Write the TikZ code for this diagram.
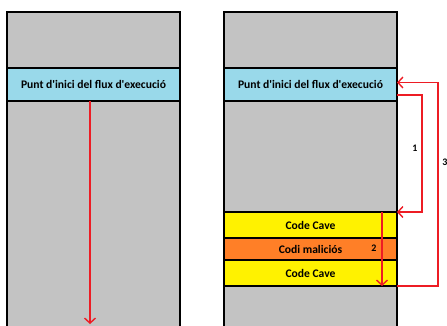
\documentclass[tikz,border=0pt]{standalone}
\usepackage{fontspec}
\setmainfont{Carlito}
\usetikzlibrary{arrows.meta,positioning,calc}
\definecolor{grisPaint}{HTML}{C3C3C3}
\definecolor{blauPaint}{HTML}{99D9EA}
\definecolor{grocPaint}{HTML}{FFF200}
\definecolor{taronjaPaint}{HTML}{FF7F27}
\definecolor{vermellPaint}{HTML}{ED1C24}
\newcommand{\apos}{\textquotesingle}
\tikzset{
  franja/.style={draw=black,line width=1.8pt,minimum width=173pt,inner sep=0pt,outer sep=0pt,
    anchor=north west,font=\bfseries\fontsize{11.6}{12}\selectfont},
  fletxa/.style={draw=vermellPaint,line width=1.6pt,-{Straight Barb[length=5pt,width=11pt,line width=1.4pt]}},
  etiqueta/.style={font=\bfseries\fontsize{10}{11}\selectfont}
}
\begin{document}
\begin{tikzpicture}[x=1pt,y=-1pt]
  \useasboundingbox (0,0) rectangle (447,325);
  \clip (0,0) rectangle (447,325);

  % columna esquerra
  \node[franja,fill=grisPaint,minimum height=56pt] (egris1) at (7,12) {};
  \node[franja,fill=blauPaint,minimum height=33pt] (eblau) at (7,68) {Punt d\apos inici del flux d\apos execució};
  \node[franja,fill=grisPaint,minimum height=240pt] (egris2) at (7,101) {};
  \coordinate (efi) at (90,324);
  \draw[fletxa] (eblau.south -| efi) -- (efi);

  % columna dreta
  \node[franja,fill=grisPaint,minimum height=56pt] (dgris1) at (224,12) {};
  \node[franja,fill=blauPaint,minimum height=33pt] (dblau) at (224,68) {Punt d\apos inici del flux d\apos execució};
  \node[franja,fill=grisPaint,minimum height=111pt] (dgris2) at (224,101) {};
  \node[franja,fill=grocPaint,minimum height=26pt] (cave1) at (224,212) {Code Cave};
  \node[franja,fill=taronjaPaint,minimum height=22pt] (malicios) at (224,238) {Codi maliciós};
  \node[franja,fill=grocPaint,minimum height=26pt] (cave2) at (224,260) {Code Cave};
  \node[franja,fill=grisPaint,minimum height=60pt] (dgris3) at (224,286) {};

  % salts
  \draw[fletxa] ([yshift=6pt]dblau.south east) -- ++(25,0) |- (cave1.north east);
  \draw[fletxa] ([xshift=-15pt]cave1.north east) -- ([xshift=-15pt]cave2.south east);
  \draw[fletxa] (cave2.south east) -- ++(41,0) |- ([yshift=2pt]dblau.east);

  % etiquetes
  \node[etiqueta] (n1) at (415,148) {1};
  \node[etiqueta] (n2) at (374,248) {2};
  \node[etiqueta] (n3) at (445,162) {3};
\end{tikzpicture}
\end{document}
